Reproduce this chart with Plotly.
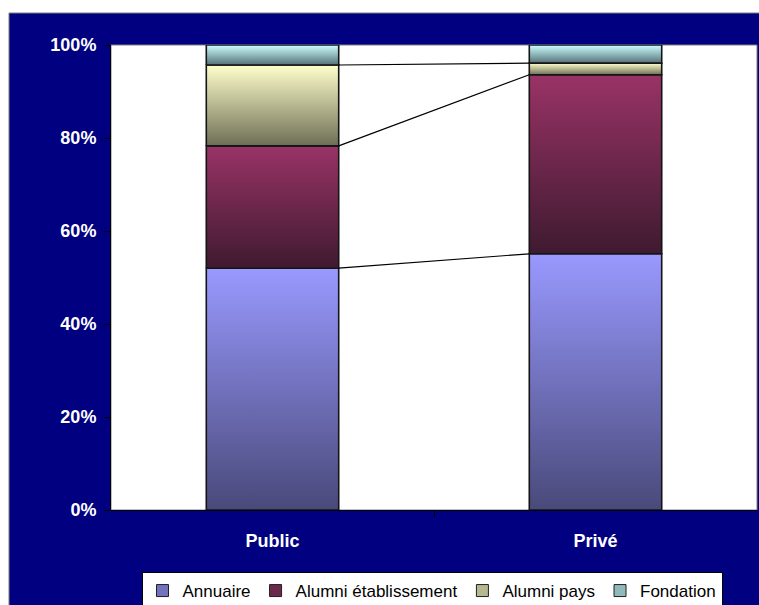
import plotly.graph_objects as go

categories = ["Public", "Privé"]
series_names = ["Annuaire", "Alumni établissement", "Alumni pays", "Fondation"]
annuaire = [52.0, 55.1]
alumni_etab = [26.3, 38.5]
alumni_pays = [17.4, 2.5]
fondation = [4.3, 3.9]
tick_vals_pct = [0, 20, 40, 60, 80, 100]
tick_text_pct = ["0%", "20%", "40%", "60%", "80%", "100%"]

series_values = [annuaire, alumni_etab, alumni_pays, fondation]
light = ["#9999FF", "#993366", "#FFFFCC", "#CCFFFF"]
dark = ["#49497A", "#3F1A30", "#6E6E55", "#557278"]
mid = ["#7373BE", "#6B2A4B", "#B7B791", "#90B9BC"]

W = 759
H = 605
L, R, T, B = 111, 2, 45, 95
pw = W - L - R
ph = H - T - B
bw = 0.41

def px_x(p):
    return (p - L) / pw

def px_y(p):
    return (H - B - p) / ph

fig = go.Figure()
xs = list(range(len(categories)))

# real bar traces
for name, vals, col in zip(series_names, series_values, mid):
    fig.add_trace(go.Bar(x=xs, y=vals, width=bw, name=name,
                         marker=dict(color=col, line=dict(color="#202020", width=1)),
                         hoverinfo="skip"))

# gradient overlays per segment
cum = [0.0 for _ in categories]
tops = []
for si, vals in enumerate(series_values):
    newcum = []
    for ci, v in enumerate(vals):
        b0 = cum[ci]
        t0 = b0 + v
        x0 = xs[ci] - bw / 2
        x1 = xs[ci] + bw / 2
        fig.add_trace(go.Scatter(
            x=[x0, x1, x1, x0, x0], y=[b0, b0, t0, t0, b0],
            mode="lines", fill="toself",
            fillgradient=dict(type="vertical",
                              colorscale=[[0, dark[si]], [1, light[si]]]),
            line=dict(color="#151515", width=1.6),
            showlegend=False, hoverinfo="skip"))
        newcum.append(t0)
    cum = newcum
    tops.append(list(cum))

# series lines
for si in range(len(series_values) - 1):
    fig.add_trace(go.Scatter(
        x=[xs[0] + bw / 2, xs[1] - bw / 2], y=[tops[si][0], tops[si][1]],
        mode="lines", line=dict(color="black", width=1.2),
        showlegend=False, hoverinfo="skip"))

shapes = [
    dict(type="rect", xref="paper", yref="paper",
         x0=px_x(9), x1=px_x(W + 2), y0=px_y(H + 2), y1=px_y(13),
         fillcolor="#000080", line=dict(color="#7F7F7F", width=1), layer="below"),
    dict(type="rect", xref="paper", yref="paper",
         x0=0, x1=1, y0=0, y1=1,
         fillcolor="white", line=dict(color="#808080", width=1), layer="below"),
]

tickfont = dict(size=18, color="white", family="Liberation Sans, Arial", weight="bold")

fig.update_layout(
    width=W, height=H,
    margin=dict(l=L, r=R, t=T, b=B, autoexpand=False),
    paper_bgcolor="white", plot_bgcolor="rgba(0,0,0,0)",
    barmode="stack",
    shapes=shapes,
    font=dict(family="Liberation Sans, Arial, sans-serif"),
    showlegend=True,
    legend=dict(orientation="h", x=px_x(432), xanchor="center",
                y=px_y(572), yanchor="top",
                bgcolor="white", bordercolor="black", borderwidth=1,
                font=dict(size=17, color="black"),
                itemwidth=30, traceorder="normal"),
    xaxis=dict(range=[-0.5, 1.5], tickvals=xs,
               ticktext=["<b>" + c + "</b>" for c in categories],
               ticks="", showgrid=False, zeroline=False,
               showline=True, linecolor="black", linewidth=1,
               tickfont=tickfont,
               ticklabelstandoff=14,
               minor=dict(tickvals=[0.5], ticks="outside", ticklen=7,
                          tickcolor="black", tickwidth=1, showgrid=False)),
    yaxis=dict(range=[0, 100], tickvals=tick_vals_pct,
               ticktext=["<b>" + t + "</b>" for t in tick_text_pct],
               ticks="outside", ticklen=6, tickcolor="black",
               showgrid=False, zeroline=False,
               showline=True, linecolor="black", linewidth=1,
               tickfont=tickfont,
               ticklabelstandoff=4),
)

fig.write_html("out.html")
